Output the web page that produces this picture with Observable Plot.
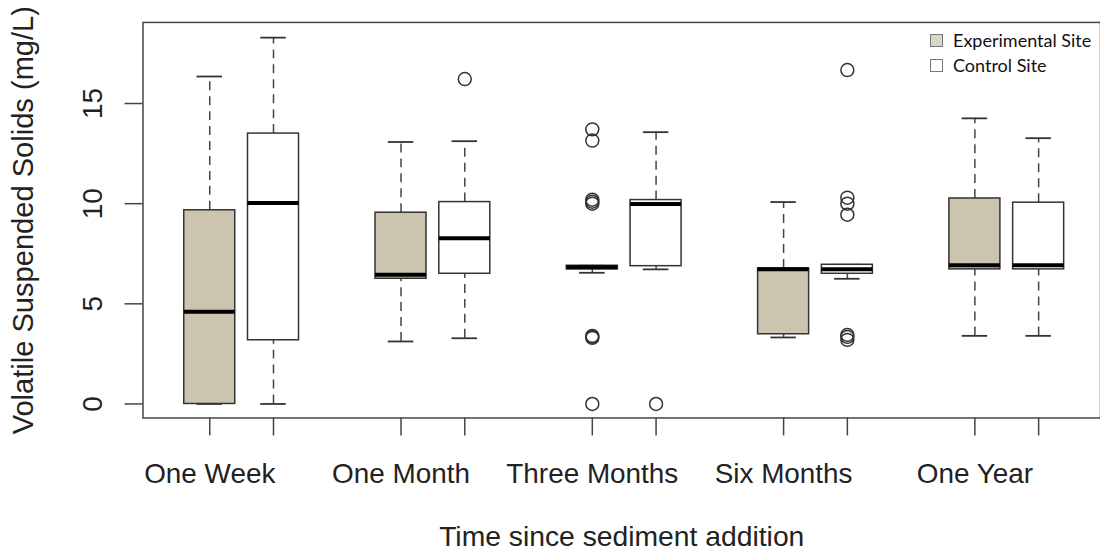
<!DOCTYPE html>
<html><head><meta charset="utf-8">
<script src="https://cdn.jsdelivr.net/npm/d3@7"></script>
<script src="https://cdn.jsdelivr.net/npm/@observablehq/plot@0.6"></script>
<style>
html,body{margin:0;padding:0;background:#fff;overflow:hidden;}
#wrap{position:relative;width:1100px;height:555px;overflow:hidden;}
.lg{position:absolute;left:930px;font-family:Lato,"Open Sans",sans-serif;font-size:18px;color:#111;white-space:nowrap;line-height:1;}
.lg .sw{display:inline-block;width:11px;height:11px;border:1px solid #777;vertical-align:0px;margin-right:10px;}
</style>
</head><body><div id="wrap"></div>
<script>
const groups = ["One Week", "One Month", "Three Months", "Six Months", "One Year"];
const sites = ["Experimental Site", "Control Site"];
const siteFill = ["#cbc5b0", "#ffffff"];
const legendFill = ["#d9d6c6", "#ffffff"];

// Experimental site summary statistics
const expLow  = [0.00, 3.12, 6.55, 3.32, 3.40];
const expQ1   = [0.00, 6.25, 6.72, 3.48, 6.72];
const expMed  = [4.60, 6.45, 6.82, 6.72, 6.92];
const expQ3   = [9.67, 9.55, 6.90, 6.77, 10.26];
const expHigh = [16.35, 13.08, 6.90, 10.08, 14.26];

// Control site summary statistics
const ctlLow  = [0.00, 3.28, 6.72, 6.25, 3.40];
const ctlQ1   = [3.18, 6.50, 6.88, 6.50, 6.72];
const ctlMed  = [10.03, 8.27, 9.98, 6.72, 6.92];
const ctlQ3   = [13.50, 10.08, 10.18, 6.95, 10.05];
const ctlHigh = [18.29, 13.12, 13.57, 6.95, 13.27];

// Outliers
const outGroup = ["Three Months","Three Months","Three Months","Three Months","Three Months","Three Months","Three Months","Three Months","Three Months",
                  "One Month","Three Months",
                  "Six Months","Six Months","Six Months","Six Months","Six Months","Six Months","Six Months"];
const outSite  = [0,0,0,0,0,0,0,0,0, 1,1, 1,1,1,1,1,1,1];
const outValue = [13.71,13.15,10.0,10.1,10.2,3.3,3.35,3.4,0.0,
                  16.22,0.0,
                  16.67,10.3,10.0,9.45,3.45,3.35,3.2];

const yTicks = [0, 5, 10, 15];
const xTitle = "Time since sediment addition";
const yTitle = "Volatile Suspended Solids (mg/L)";

const pos = (gi, si) => gi * 3 + 1 + si;
const boxes = [];
groups.forEach((g, gi) => {
  const S = [[expLow, expQ1, expMed, expQ3, expHigh], [ctlLow, ctlQ1, ctlMed, ctlQ3, ctlHigh]];
  S.forEach((s, si) => {
    boxes.push({group: g, site: si, pos: pos(gi, si), low: s[0][gi], q1: s[1][gi], med: s[2][gi], q3: s[3][gi], high: s[4][gi]});
  });
});
const outliers = outValue.map((v, i) => ({pos: pos(groups.indexOf(outGroup[i]), outSite[i]), value: v}));
const tickPositions = boxes.map(d => d.pos);
const tickLabel = new Map(boxes.map(d => [d.pos, d.site === 0 ? d.group : ""]));

const HW = 0.4, CW = 0.2;
const font = "Liberation Sans, Arial, Helvetica, sans-serif";

const chart = Plot.plot({
  width: 1104, height: 555,
  marginLeft: 143, marginRight: 0, marginTop: 22, marginBottom: 136,
  style: {fontFamily: font, background: "#fff", color: "#222"},
  x: {type: "linear", domain: [-0.047, 14.97], axis: null, label: null},
  y: {domain: [-0.7, 19.05], axis: null, label: null},
  marks: [
    Plot.ruleX(boxes, {x: "pos", y1: "q3", y2: "high", stroke: "#444", strokeWidth: 1.5, strokeDasharray: "9,6"}),
    Plot.ruleX(boxes, {x: "pos", y1: "low", y2: "q1", stroke: "#444", strokeWidth: 1.5, strokeDasharray: "9,6"}),
    Plot.ruleY(boxes, {y: "high", x1: d => d.pos - CW, x2: d => d.pos + CW, stroke: "#333", strokeWidth: 1.8}),
    Plot.ruleY(boxes, {y: "low", x1: d => d.pos - CW, x2: d => d.pos + CW, stroke: "#333", strokeWidth: 1.8}),
    Plot.rect(boxes, {x1: d => d.pos - HW, x2: d => d.pos + HW, y1: "q1", y2: "q3", fill: d => siteFill[d.site], stroke: "#333", strokeWidth: 1.5}),
    Plot.ruleY(boxes, {y: "med", x1: d => d.pos - HW, x2: d => d.pos + HW, stroke: "#000", strokeWidth: 4}),
    Plot.dot(outliers, {x: "pos", y: "value", r: 6.5, stroke: "#333", strokeWidth: 1.5, fill: "none"}),
    Plot.frame({stroke: "#444", strokeWidth: 1.5}),
    Plot.axisX({ticks: tickPositions, tickSize: 18, tickPadding: 27, tickFormat: p => tickLabel.get(p) ?? "", fontSize: 28, stroke: "#444", strokeWidth: 1.5, fill: "#222", label: null}),
    Plot.axisY({ticks: yTicks, tickSize: 18, tickFormat: () => "", stroke: "#444", strokeWidth: 1.5, label: null}),
    Plot.text(yTicks, {y: d => d, text: d => String(d), frameAnchor: "left", dx: -50, rotate: -90, fontSize: 28, textAnchor: "middle", lineAnchor: "middle", fill: "#222"}),
    Plot.text([yTitle], {text: d => d, frameAnchor: "left", dx: -120, rotate: -90, fontSize: 29.2, textAnchor: "middle", lineAnchor: "middle", fill: "#222"}),
    Plot.text([xTitle], {text: d => d, frameAnchor: "bottom", dy: 119, fontSize: 28.4, textAnchor: "middle", lineAnchor: "middle", fill: "#222"})
  ]
});
const wrap = document.getElementById("wrap");
wrap.appendChild(chart);
sites.forEach((s, i) => {
  const el = document.createElement("div");
  el.className = "lg";
  el.style.top = (31 + i * 25) + "px";
  el.innerHTML = `<span class="sw" style="background:${legendFill[i]}"></span>${s}`;
  wrap.appendChild(el);
});
</script>
</body></html>
